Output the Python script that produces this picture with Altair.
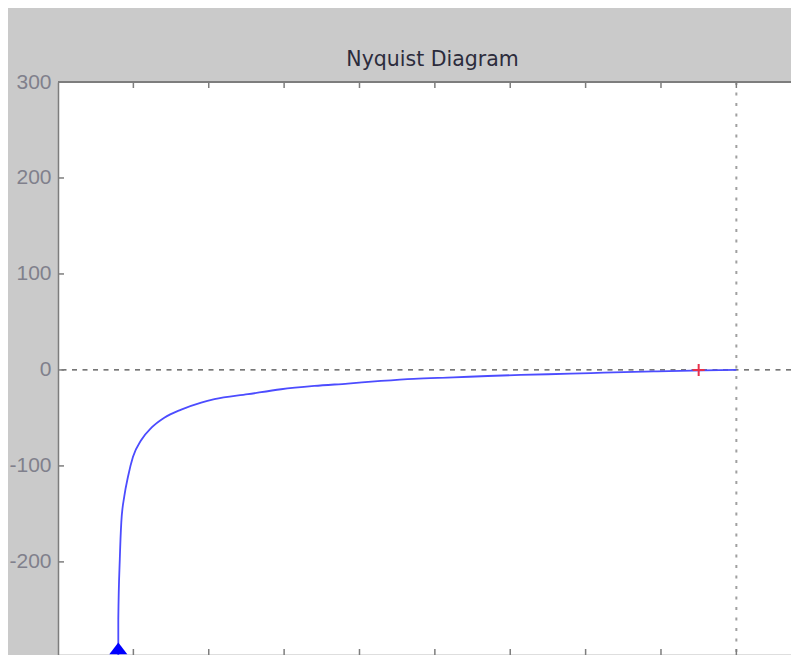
import altair as alt
import pandas as pd

re_vals = [-16.40, -16.40, -16.36, -16.32, -16.24, -16.14, -16.01, -15.79, -15.52,
           -15.18, -14.73, -14.20, -13.85, -12.96, -12.08, -11.20, -10.31, -9.43,
           -8.56, -7.50, -6.60, -5.72, -4.40, -3.52, -2.19, -0.87, 0.0]
im_vals = [-300.0, -259.7, -197.0, -158.6, -131.6, -110.7, -90.5, -73.0, -60.2,
           -49.8, -41.3, -34.0, -30.5, -25.3, -20.1, -16.7, -14.2, -11.5,
           -9.3, -7.8, -6.3, -5.2, -3.9, -2.9, -1.6, -0.5, 0.0]
arrow_pt = {"re": [-16.40], "im": [-290.0]}
critical_pt = {"re": [-1.0], "im": [0.0]}
y_ticks = [300, 200, 100, 0, -100, -200, -300]
x_ticks = [-16, -14, -12, -10, -8, -6, -4, -2, 0]

X_DOM = [-18, 1.45]
Y_DOM = [-297, 300]
W, H = 733, 573

curve = pd.DataFrame({"re": re_vals, "im": im_vals, "i": list(range(len(re_vals)))})
xs = alt.Scale(domain=X_DOM, nice=False, zero=False)
ys = alt.Scale(domain=Y_DOM, nice=False, zero=False)

label_expr = "datum.value < 0 ? '-' + format(-datum.value, 'd') : format(datum.value, 'd')"

base_x = alt.X("re:Q", scale=xs, axis=alt.Axis(labels=False, ticks=False, grid=False, title=None,
                                                domainColor="#7d7d7d", domainWidth=1.5))
base_y = alt.Y("im:Q", scale=ys, axis=alt.Axis(values=y_ticks, ticks=False, grid=False, title=None,
                                                labelExpr=label_expr, labelFont="Liberation Sans",
                                                labelFontSize=21, labelColor="#80808c",
                                                labelPadding=7, domainColor="#7d7d7d",
                                                domainWidth=1.5))

line = alt.Chart(curve).mark_line(color="#4c4cff", strokeWidth=1.8, clip=True,
                                  interpolate="monotone").encode(
    x=base_x, y=base_y, order="i:Q")

hz = alt.Chart(pd.DataFrame({"im": [0.0]})).mark_rule(
    color="#4a4a4a", strokeWidth=1.2, strokeDash=[5, 5.5]).encode(y=alt.Y("im:Q", scale=ys))
vt = alt.Chart(pd.DataFrame({"re": [0.0]})).mark_rule(
    color="#a0a0a0", strokeWidth=2, strokeDash=[3, 7.5]).encode(x=alt.X("re:Q", scale=xs))

ytick = alt.Chart(pd.DataFrame({"im": y_ticks})).mark_rule(color="#7d7d7d", strokeWidth=1.5).encode(
    y=alt.Y("im:Q", scale=ys), x=alt.value(0), x2=alt.value(6))
xtick_top = alt.Chart(pd.DataFrame({"re": x_ticks})).mark_rule(color="#7d7d7d", strokeWidth=1.5).encode(
    x=alt.X("re:Q", scale=xs), y=alt.value(0), y2=alt.value(6))
xtick_bot = alt.Chart(pd.DataFrame({"re": x_ticks})).mark_rule(color="#7d7d7d", strokeWidth=1.5).encode(
    x=alt.X("re:Q", scale=xs), y=alt.value(H), y2=alt.value(H - 6))
top_line = alt.Chart(pd.DataFrame({"re": [0.0]})).mark_rule(color="#7d7d7d", strokeWidth=1.8).encode(
    x=alt.value(0), x2=alt.value(W), y=alt.value(0))

arrow = alt.Chart(pd.DataFrame(arrow_pt)).mark_point(
    shape="M-1,0.65 L0,-0.65 L1,0.65 Z", filled=True, color="#0000ff", size=324, opacity=1).encode(
    x=alt.X("re:Q", scale=xs), y=alt.Y("im:Q", scale=ys))
crit = alt.Chart(pd.DataFrame(critical_pt)).mark_point(
    shape="M-1,0 L1,0 M0,-1 L0,1", filled=False, color="#e8304a", strokeWidth=2, size=144, opacity=1).encode(
    x=alt.X("re:Q", scale=xs), y=alt.Y("im:Q", scale=ys))

chart = alt.layer(hz, vt, line, ytick, xtick_top, xtick_bot, top_line, arrow, crit).properties(
    width=W, height=H,
    background="#cacaca",
    autosize=alt.AutoSizeParams(type="none"),
    padding={"left": 50, "top": 74, "right": 0, "bottom": 0},
    title=alt.TitleParams("Nyquist Diagram", font="DejaVu Sans", fontSize=20.5, fontWeight="normal",
                          color="#2c2c3c", anchor="middle", frame="group", dx=8, dy=9, offset=10),
).configure_view(stroke=None, fill="white")

chart.save("out.html", embed_options={"renderer": "svg", "actions": False})
